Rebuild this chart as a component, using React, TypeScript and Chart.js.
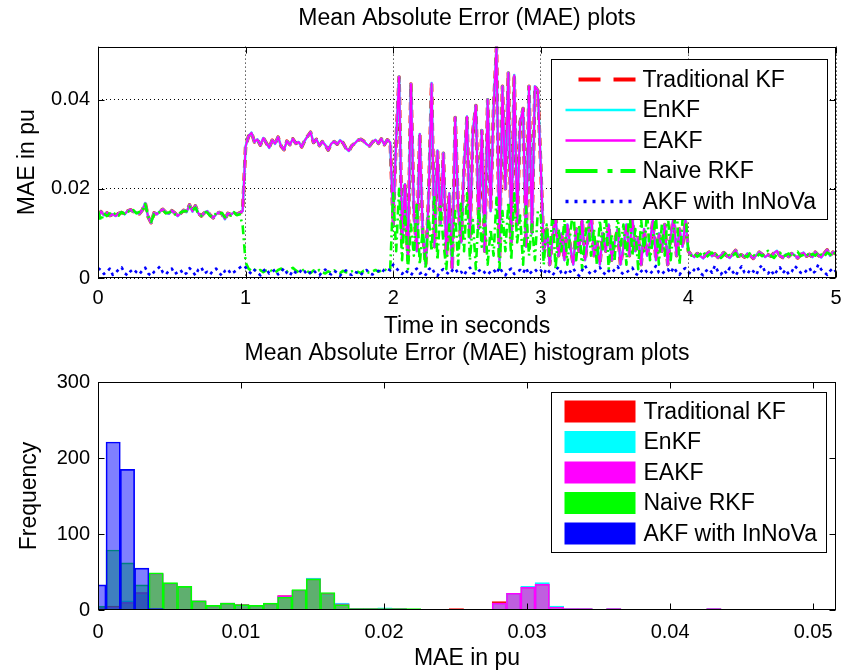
import React, { useEffect, useRef } from "react";
import { Chart, registerables } from "chart.js";

Chart.register(...registerables);

const FONT_FAMILY = "'Liberation Sans', Arial, Helvetica, sans-serif";

// ---------------- series ----------------
const SERIES = ["Traditional KF", "EnKF", "EAKF", "Naive RKF", "AKF with InNoVa"];
const COLORS = ["#ff0000", "#00ffff", "#ff00ff", "#00ff00", "#0000ff"];

// ---------------- top plot : MAE vs time ----------------
const SAMPLE_STEP_S = 0.02; // one value every 0.02 s, t = 0 ... 5 s
const TIME_TICKS = [0, 1, 2, 3, 4, 5];
const MAE_TICKS = [0, 0.02, 0.04];
const TIME_MAX = 5;
const MAE_MAX = 0.0519;

const EAKF_MAE = [
  0.0138, 0.0149, 0.0141, 0.0146, 0.0140, 0.0143, 0.0139, 0.0145, 0.0147, 0.0143,
  0.0150, 0.0153, 0.0149, 0.0147, 0.0144, 0.0152, 0.0168, 0.0137, 0.0124, 0.0146,
  0.0143, 0.0150, 0.0154, 0.0147, 0.0144, 0.0151, 0.0146, 0.0139, 0.0145, 0.0152,
  0.0148, 0.0164, 0.0149, 0.0162, 0.0145, 0.0139, 0.0146, 0.0150, 0.0141, 0.0135,
  0.0143, 0.0147, 0.0144, 0.0132, 0.0145, 0.0142, 0.0147, 0.0143, 0.0146, 0.0150,
  0.0295, 0.0318, 0.0326, 0.0305, 0.0311, 0.0298, 0.0314, 0.0303, 0.0292, 0.0309,
  0.0301, 0.0316, 0.0296, 0.0288, 0.0307, 0.0299, 0.0312, 0.0302, 0.0305, 0.0294,
  0.0308, 0.0318, 0.0327, 0.0304, 0.0311, 0.0297, 0.0306, 0.0298, 0.0287, 0.0301,
  0.0306, 0.0300, 0.0309, 0.0303, 0.0291, 0.0285, 0.0297, 0.0302, 0.0309, 0.0311,
  0.0307, 0.0300, 0.0296, 0.0305, 0.0310, 0.0302, 0.0312, 0.0299, 0.0310, 0.0304,
  0.0120, 0.0310, 0.0451, 0.0080, 0.0210, 0.0040, 0.0435, 0.0150, 0.0060, 0.0323,
  0.0100, 0.0030, 0.0180, 0.0437, 0.0070, 0.0286, 0.0120, 0.0280, 0.0050, 0.0190,
  0.0020, 0.0360, 0.0160, 0.0080, 0.0250, 0.0362, 0.0090, 0.0330, 0.0387, 0.0110,
  0.0331, 0.0060, 0.0400, 0.0150, 0.0380, 0.0518, 0.0040, 0.0430, 0.0200, 0.0460,
  0.0080, 0.0455, 0.0120, 0.0350, 0.0380, 0.0070, 0.0430, 0.0100, 0.0430, 0.0420,
  0.0250, 0.0060, 0.0110, 0.0030, 0.0090, 0.0140, 0.0050, 0.0100, 0.0040, 0.0120,
  0.0070, 0.0030, 0.0110, 0.0060, 0.0130, 0.0040, 0.0090, 0.0150, 0.0050, 0.0080,
  0.0030, 0.0100, 0.0060, 0.0120, 0.0040, 0.0080, 0.0110, 0.0030, 0.0070, 0.0120,
  0.0050, 0.0140, 0.0060, 0.0090, 0.0030, 0.0110, 0.0050, 0.0080, 0.0130, 0.0040,
  0.0100, 0.0060, 0.0120, 0.0030, 0.0090, 0.0140, 0.0050, 0.0110, 0.0070, 0.0130,
  0.0060, 0.0052, 0.0047, 0.0055, 0.0050, 0.0044, 0.0053, 0.0058, 0.0049, 0.0054,
  0.0046, 0.0051, 0.0057, 0.0050, 0.0045, 0.0053, 0.0062, 0.0049, 0.0052, 0.0047,
  0.0055, 0.0050, 0.0044, 0.0051, 0.0058, 0.0053, 0.0047, 0.0052, 0.0049, 0.0056,
  0.0061, 0.0050, 0.0046, 0.0053, 0.0048, 0.0055, 0.0051, 0.0045, 0.0052, 0.0057,
  0.0049, 0.0053, 0.0047, 0.0058, 0.0051, 0.0046, 0.0055, 0.0063, 0.0050, 0.0058,
  0.0054,
];
// Traditional KF and EnKF coincide with EAKF at the scale of the picture
const TRADITIONAL_KF_MAE = EAKF_MAE;
const ENKF_MAE = EAKF_MAE;

const NAIVE_RKF_MAE = [
  0.0150, 0.0128, 0.0146, 0.0139, 0.0145, 0.0141, 0.0146, 0.0140, 0.0148, 0.0144,
  0.0151, 0.0147, 0.0152, 0.0145, 0.0148, 0.0149, 0.0166, 0.0138, 0.0126, 0.0143,
  0.0145, 0.0148, 0.0152, 0.0145, 0.0147, 0.0149, 0.0143, 0.0141, 0.0147, 0.0150,
  0.0150, 0.0160, 0.0151, 0.0158, 0.0143, 0.0140, 0.0148, 0.0147, 0.0139, 0.0137,
  0.0145, 0.0144, 0.0146, 0.0136, 0.0142, 0.0140, 0.0148, 0.0141, 0.0143, 0.0118,
  0.0035, 0.0021, 0.0016, 0.0019, 0.0014, 0.0018, 0.0013, 0.0017, 0.0020, 0.0015,
  0.0012, 0.0018, 0.0021, 0.0016, 0.0014, 0.0019, 0.0023, 0.0017, 0.0013, 0.0016,
  0.0020, 0.0015, 0.0011, 0.0017, 0.0014, 0.0018, 0.0013, 0.0010, 0.0015, 0.0012,
  0.0017, 0.0014, 0.0011, 0.0016, 0.0013, 0.0012, 0.0015, 0.0010, 0.0014, 0.0011,
  0.0016, 0.0013, 0.0012, 0.0015, 0.0018, 0.0014, 0.0017, 0.0020, 0.0016, 0.0021,
  0.0190, 0.0060, 0.0200, 0.0040, 0.0150, 0.0020, 0.0120, 0.0050, 0.0170, 0.0030,
  0.0110, 0.0020, 0.0140, 0.0060, 0.0185, 0.0040, 0.0160, 0.0080, 0.0020, 0.0120,
  0.0050, 0.0150, 0.0030, 0.0170, 0.0060, 0.0190, 0.0040, 0.0130, 0.0020, 0.0160,
  0.0070, 0.0140, 0.0030, 0.0110, 0.0050, 0.0180, 0.0020, 0.0150, 0.0060, 0.0170,
  0.0040, 0.0190, 0.0080, 0.0140, 0.0030, 0.0160, 0.0050, 0.0120, 0.0040, 0.0150,
  0.0140, 0.0030, 0.0120, 0.0050, 0.0150, 0.0020, 0.0110, 0.0060, 0.0130, 0.0030,
  0.0100, 0.0160, 0.0040, 0.0120, 0.0020, 0.0090, 0.0140, 0.0050, 0.0110, 0.0030,
  0.0130, 0.0060, 0.0150, 0.0020, 0.0100, 0.0040, 0.0140, 0.0070, 0.0120, 0.0030,
  0.0160, 0.0050, 0.0110, 0.0020, 0.0130, 0.0060, 0.0150, 0.0040, 0.0090, 0.0140,
  0.0030, 0.0120, 0.0050, 0.0150, 0.0040, 0.0110, 0.0160, 0.0030, 0.0130, 0.0140,
  0.0058, 0.0050, 0.0055, 0.0048, 0.0053, 0.0060, 0.0046, 0.0052, 0.0057, 0.0049,
  0.0054, 0.0045, 0.0051, 0.0059, 0.0048, 0.0050, 0.0056, 0.0044, 0.0055, 0.0050,
  0.0047, 0.0058, 0.0052, 0.0046, 0.0054, 0.0049, 0.0056, 0.0061, 0.0050, 0.0045,
  0.0053, 0.0057, 0.0048, 0.0051, 0.0055, 0.0046, 0.0053, 0.0059, 0.0049, 0.0052,
  0.0056, 0.0047, 0.0054, 0.0050, 0.0058, 0.0052, 0.0048, 0.0057, 0.0053, 0.0049,
  0.0062,
];

const AKF_INNOVA_MAE = [
  0.0022, 0.0018, 0.0009, 0.0014, 0.0021, 0.0007, 0.0012, 0.0019, 0.0024, 0.0011,
  0.0006, 0.0015, 0.0020, 0.0013, 0.0008, 0.0017, 0.0023, 0.0010, 0.0005, 0.0014,
  0.0019, 0.0026, 0.0012, 0.0008, 0.0016, 0.0021, 0.0009, 0.0013, 0.0018, 0.0007,
  0.0011, 0.0022, 0.0015, 0.0006, 0.0019, 0.0024, 0.0010, 0.0014, 0.0008, 0.0017,
  0.0021, 0.0012, 0.0005, 0.0016, 0.0020, 0.0009, 0.0013, 0.0018, 0.0023, 0.0028,
  0.0024, 0.0015, 0.0009, 0.0018, 0.0012, 0.0006, 0.0016, 0.0021, 0.0010, 0.0014,
  0.0019, 0.0008, 0.0013, 0.0022, 0.0011, 0.0005, 0.0017, 0.0012, 0.0009, 0.0020,
  0.0015, 0.0007, 0.0013, 0.0018, 0.0010, 0.0006, 0.0014, 0.0019, 0.0011, 0.0008,
  0.0016, 0.0012, 0.0005, 0.0013, 0.0017, 0.0009, 0.0007, 0.0014, 0.0011, 0.0006,
  0.0015, 0.0018, 0.0010, 0.0008, 0.0013, 0.0016, 0.0011, 0.0019, 0.0021, 0.0017,
  0.0030, 0.0022, 0.0015, 0.0009, 0.0018, 0.0012, 0.0006, 0.0016, 0.0021, 0.0010,
  0.0014, 0.0007, 0.0019, 0.0024, 0.0011, 0.0005, 0.0015, 0.0020, 0.0013, 0.0008,
  0.0017, 0.0022, 0.0010, 0.0014, 0.0006, 0.0018, 0.0023, 0.0011, 0.0009, 0.0016,
  0.0020, 0.0012, 0.0007, 0.0015, 0.0019, 0.0010, 0.0024, 0.0013, 0.0006, 0.0017,
  0.0021, 0.0009, 0.0014, 0.0018, 0.0011, 0.0023, 0.0008, 0.0015, 0.0020, 0.0012,
  0.0017, 0.0009, 0.0021, 0.0013, 0.0006, 0.0016, 0.0025, 0.0011, 0.0008, 0.0019,
  0.0014, 0.0022, 0.0010, 0.0005, 0.0017, 0.0028, 0.0015, 0.0009, 0.0012, 0.0020,
  0.0024, 0.0013, 0.0007, 0.0016, 0.0011, 0.0019, 0.0026, 0.0014, 0.0008, 0.0012,
  0.0018, 0.0023, 0.0010, 0.0006, 0.0015, 0.0021, 0.0013, 0.0009, 0.0017, 0.0027,
  0.0012, 0.0008, 0.0016, 0.0020, 0.0011, 0.0024, 0.0014, 0.0007, 0.0018, 0.0022,
  0.0013, 0.0009, 0.0019, 0.0025, 0.0011, 0.0006, 0.0016, 0.0021, 0.0012, 0.0028,
  0.0015, 0.0008, 0.0018, 0.0010, 0.0023, 0.0014, 0.0005, 0.0017, 0.0026, 0.0012,
  0.0009, 0.0020, 0.0015, 0.0007, 0.0022, 0.0029, 0.0013, 0.0010, 0.0018, 0.0006,
  0.0016, 0.0024, 0.0011, 0.0019, 0.0008, 0.0014, 0.0027, 0.0021, 0.0012, 0.0009,
  0.0017, 0.0023, 0.0010, 0.0015, 0.0030, 0.0019, 0.0013, 0.0007, 0.0016, 0.0022,
  0.0014,
];

// ---------------- bottom plot : MAE histogram ----------------
const HIST_FIRST_CENTER = 0.00006;
const HIST_BIN_WIDTH = 0.001;
const HIST_X_TICKS = [0, 0.01, 0.02, 0.03, 0.04, 0.05];
const HIST_Y_TICKS = [0, 100, 200, 300];
const HIST_X_MAX = 0.0516;
const HIST_Y_MAX = 300;

const TRADITIONAL_KF_HIST = [
  4, 5, 10, 23, 48, 35, 31, 12, 5, 9, 7, 6, 8, 19, 26, 41, 22, 8, 2, 2, 2, 2, 1,
  0, 0, 2, 1, 1, 11, 22, 30, 34, 4, 2, 2, 1, 2, 0, 1, 0, 0, 0, 0, 2, 1, 1, 0,
];
const ENKF_HIST = [
  4, 4, 12, 20, 48, 35, 31, 12, 5, 9, 6, 6, 8, 18, 26, 42, 20, 9, 2, 2, 3, 2, 1,
  0, 0, 1, 1, 1, 9, 22, 31, 36, 5, 2, 2, 1, 2, 0, 1, 0, 0, 0, 0, 2, 1, 1, 0,
];
const EAKF_HIST = [
  4, 4, 10, 23, 48, 35, 31, 12, 5, 9, 7, 6, 8, 19, 26, 41, 22, 8, 2, 2, 2, 2, 1,
  0, 0, 1, 1, 1, 9, 22, 30, 34, 4, 2, 2, 1, 2, 0, 1, 0, 0, 0, 0, 2, 1, 1, 0,
];
const NAIVE_RKF_HIST = [
  5, 79, 62, 33, 49, 36, 31, 12, 6, 9, 7, 6, 9, 17, 27, 41, 23, 7, 2, 2, 2, 2, 2,
  0, 0, 0, 0, 0, 0, 0, 0, 0, 0, 0, 0, 0, 0, 0, 0, 0, 0, 0, 0, 0, 0, 0, 0,
];
const AKF_INNOVA_HIST = [
  33, 221, 185, 55, 2, 0, 0, 0, 0, 0, 0, 0, 0, 0, 0, 0, 0, 0, 0, 0, 0, 0, 0,
  0, 0, 0, 0, 0, 0, 0, 0, 0, 0, 0, 0, 0, 0, 0, 0, 0, 0, 0, 0, 0, 0, 0, 0,
];

// ---------------- helpers ----------------
const fmtTick = (v: number) => (v === 0 ? "0" : String(v));

function rgba(hex: string, a: number) {
  const n = parseInt(hex.slice(1), 16);
  return `rgba(${(n >> 16) & 255},${(n >> 8) & 255},${n & 255},${a})`;
}

function drawFrame(chart: any, xTicks: number[], yTicks: number[]) {
  const { ctx, chartArea: a, scales } = chart;
  ctx.save();
  ctx.strokeStyle = "#000";
  ctx.lineWidth = 1;
  ctx.setLineDash([]);
  const L = Math.round(a.left) + 0.5;
  const R = Math.round(a.right) - 0.5;
  const T = Math.round(a.top) + 0.5;
  const B = Math.round(a.bottom) - 0.5;
  ctx.strokeRect(L, T, R - L, B - T);
  const len = 6;
  ctx.beginPath();
  for (const v of xTicks) {
    const px = Math.round(scales.x.getPixelForValue(v)) + 0.5;
    ctx.moveTo(px, B);
    ctx.lineTo(px, B - len);
    ctx.moveTo(px, T);
    ctx.lineTo(px, T + len);
  }
  for (const v of yTicks) {
    const py = Math.round(scales.y.getPixelForValue(v)) + 0.5;
    ctx.moveTo(L, py);
    ctx.lineTo(L + len, py);
    ctx.moveTo(R, py);
    ctx.lineTo(R - len, py);
  }
  ctx.stroke();
  ctx.restore();
}

const LINE_LEGEND_STYLE = [
  { width: 4, dash: [22, 13], offset: 22 },
  { width: 2.5, dash: [], offset: 0 },
  { width: 2.5, dash: [], offset: 0 },
  { width: 4, dash: [32, 10, 5, 8], offset: 0 },
  { width: 3.5, dash: [3, 6], offset: 0 },
];

const lineChartDecor = {
  id: "lineChartDecor",
  afterDatasetsDraw(chart: any) {
    drawFrame(chart, TIME_TICKS, MAE_TICKS);
    const { ctx, chartArea: a } = chart;
    const w = 276;
    const h = 160;
    const x0 = Math.round(a.right - 9 - w) + 0.5;
    const y0 = Math.round(a.top + 12) + 0.5;
    ctx.save();
    ctx.fillStyle = "#fff";
    ctx.fillRect(x0, y0, w, h);
    ctx.strokeStyle = "#000";
    ctx.lineWidth = 1;
    ctx.strokeRect(x0, y0, w, h);
    ctx.font = `23px ${FONT_FAMILY}`;
    ctx.textBaseline = "middle";
    ctx.textAlign = "left";
    SERIES.forEach((name, i) => {
      const cy = y0 + 20 + i * 30.5;
      const st = LINE_LEGEND_STYLE[i];
      ctx.beginPath();
      ctx.strokeStyle = COLORS[i];
      ctx.lineWidth = st.width;
      ctx.setLineDash(st.dash);
      ctx.lineDashOffset = st.offset;
      ctx.moveTo(x0 + 14, cy);
      ctx.lineTo(x0 + 84, cy);
      ctx.stroke();
      ctx.setLineDash([]);
      ctx.fillStyle = "#000";
      ctx.fillText(name, x0 + 91, cy + 1);
    });
    ctx.restore();
  },
};

const histChartDecor = {
  id: "histChartDecor",
  afterDatasetsDraw(chart: any) {
    drawFrame(chart, HIST_X_TICKS, HIST_Y_TICKS);
    const { ctx, chartArea: a } = chart;
    const w = 275;
    const h = 160;
    const x0 = Math.round(a.right - 10 - w) + 0.5;
    const y0 = Math.round(a.top + 10) + 0.5;
    ctx.save();
    ctx.fillStyle = "#fff";
    ctx.fillRect(x0, y0, w, h);
    ctx.strokeStyle = "#000";
    ctx.lineWidth = 1;
    ctx.strokeRect(x0, y0, w, h);
    ctx.font = `23px ${FONT_FAMILY}`;
    ctx.textBaseline = "middle";
    ctx.textAlign = "left";
    SERIES.forEach((name, i) => {
      const cy = y0 + 19 + i * 30.5;
      ctx.fillStyle = COLORS[i];
      ctx.fillRect(x0 + 13, cy - 11, 71, 22);
      ctx.fillStyle = "#000";
      ctx.fillText(name, x0 + 92, cy + 1);
    });
    ctx.restore();
  },
};

const tickFont = { family: FONT_FAMILY, size: 20 };
const labelFont = { family: FONT_FAMILY, size: 23, weight: "normal" as const };

// ---------------- components ----------------
function MaeTimeChart() {
  const ref = useRef<HTMLCanvasElement>(null);
  useEffect(() => {
    const series = [TRADITIONAL_KF_MAE, ENKF_MAE, EAKF_MAE, NAIVE_RKF_MAE, AKF_INNOVA_MAE];
    const styles = [
      { width: 3.5, dash: [8, 5], order: 5 },
      { width: 2.6, dash: [], order: 4 },
      { width: 2, dash: [], order: 3 },
      { width: 2.6, dash: [9, 4, 2, 4], order: 2 },
      { width: 2.6, dash: [3, 4], order: 1 },
    ];
    const datasets = series.map((vals, i) => ({
      label: SERIES[i],
      data: vals.map((v, k) => ({ x: k * SAMPLE_STEP_S, y: v })),
      borderColor: COLORS[i],
      backgroundColor: COLORS[i],
      borderWidth: styles[i].width,
      borderDash: styles[i].dash,
      borderJoinStyle: "round" as const,
      pointRadius: 0,
      tension: 0,
      fill: false,
      order: styles[i].order,
    }));
    const chart = new Chart(ref.current as HTMLCanvasElement, {
      type: "line",
      data: { datasets },
      options: {
        animation: false,
        responsive: false,
        devicePixelRatio: 1,
        events: [],
        layout: { padding: { left: 0, right: 10, top: 0, bottom: 0 }, autoPadding: false },
        plugins: {
          legend: { display: false },
          tooltip: { enabled: false },
          title: {
            display: true,
            text: "Mean Absolute Error (MAE) plots",
            fullSize: false,
            color: "#000",
            font: labelFont,
            padding: { top: 5, bottom: 14 },
          },
        },
        scales: {
          x: {
            type: "linear",
            min: 0,
            max: TIME_MAX,
            afterBuildTicks: (s: any) => {
              s.ticks = TIME_TICKS.map((value) => ({ value }));
            },
            afterFit: (s: any) => {
              s.height = 62;
              s.paddingLeft = 0;
              s.paddingRight = 0;
            },
            ticks: { callback: (v: any) => fmtTick(Number(v)), font: tickFont, color: "#000", padding: 8, maxRotation: 0 },
            grid: { color: "#000", lineWidth: 1, drawTicks: false },
            border: { display: false, dash: [1, 3] },
            title: { display: true, text: "Time in seconds", color: "#000", font: labelFont, padding: { top: 0, bottom: 0 } },
          },
          y: {
            type: "linear",
            min: 0,
            max: MAE_MAX,
            afterBuildTicks: (s: any) => {
              s.ticks = MAE_TICKS.map((value) => ({ value }));
            },
            afterFit: (s: any) => {
              s.width = 98;
              s.paddingTop = 0;
              s.paddingBottom = 0;
            },
            ticks: { callback: (v: any) => fmtTick(Number(v)), font: tickFont, color: "#000", padding: 8 },
            grid: { color: "#000", lineWidth: 1, drawTicks: false },
            border: { display: false, dash: [1, 3] },
            title: { display: true, text: "MAE in pu", color: "#000", font: labelFont, padding: { top: 14, bottom: 0 } },
          },
        },
      },
      plugins: [lineChartDecor],
    } as any);
    return () => chart.destroy();
  }, []);
  return (
    <canvas
      ref={ref}
      width={846}
      height={340}
      style={{ position: "absolute", left: 0, top: 0, width: 846, height: 340, display: "block" }}
    />
  );
}

function MaeHistogramChart() {
  const ref = useRef<HTMLCanvasElement>(null);
  useEffect(() => {
    const counts = [TRADITIONAL_KF_HIST, ENKF_HIST, EAKF_HIST, NAIVE_RKF_HIST, AKF_INNOVA_HIST];
    const orders = [5, 4, 3, 2, 1];
    const datasets = counts.map((c, i) => ({
      label: SERIES[i],
      data: c
        .map((y, k) => ({ x: HIST_FIRST_CENTER + k * HIST_BIN_WIDTH, y }))
        .filter((p) => p.y > 0),
      backgroundColor: rgba(COLORS[i], 0.5),
      borderColor: COLORS[i],
      borderWidth: 1,
      grouped: false,
      barPercentage: 1,
      categoryPercentage: 1,
      order: orders[i],
    }));
    const chart = new Chart(ref.current as HTMLCanvasElement, {
      type: "bar",
      data: { datasets },
      options: {
        animation: false,
        responsive: false,
        devicePixelRatio: 1,
        events: [],
        layout: { padding: { left: 0, right: 10, top: 0, bottom: 0 }, autoPadding: false },
        plugins: {
          legend: { display: false },
          tooltip: { enabled: false },
          title: {
            display: true,
            text: "Mean Absolute Error (MAE) histogram plots",
            fullSize: false,
            color: "#000",
            font: labelFont,
            padding: { top: 0, bottom: 14.4 },
          },
        },
        scales: {
          x: {
            type: "linear",
            min: 0,
            max: HIST_X_MAX,
            offset: false,
            afterBuildTicks: (s: any) => {
              s.ticks = HIST_X_TICKS.map((value) => ({ value }));
            },
            afterFit: (s: any) => {
              s.height = 62;
              s.paddingLeft = 0;
              s.paddingRight = 0;
            },
            ticks: { callback: (v: any) => fmtTick(Number(v)), font: tickFont, color: "#000", padding: 10, maxRotation: 0 },
            grid: { display: false, offset: false, drawTicks: false },
            border: { display: false },
            title: { display: true, text: "MAE in pu", color: "#000", font: labelFont, padding: { top: 0, bottom: 0 } },
          },
          y: {
            type: "linear",
            min: 0,
            max: HIST_Y_MAX,
            afterBuildTicks: (s: any) => {
              s.ticks = HIST_Y_TICKS.map((value) => ({ value }));
            },
            afterFit: (s: any) => {
              s.width = 98;
              s.paddingTop = 0;
              s.paddingBottom = 0;
            },
            ticks: { callback: (v: any) => fmtTick(Number(v)), font: tickFont, color: "#000", padding: 8 },
            grid: { display: false, drawTicks: false },
            border: { display: false },
            title: { display: true, text: "Frequency", color: "#000", font: labelFont, padding: { top: 16, bottom: 0 } },
          },
        },
      },
      plugins: [histChartDecor],
    } as any);
    return () => chart.destroy();
  }, []);
  return (
    <canvas
      ref={ref}
      width={846}
      height={332}
      style={{ position: "absolute", left: 0, top: 340, width: 846, height: 332, display: "block" }}
    />
  );
}

export default function App() {
  return (
    <div style={{ position: "absolute", left: 0, top: 0, width: 846, height: 672, background: "#fff", overflow: "hidden" }}>
      <MaeTimeChart />
      <MaeHistogramChart />
    </div>
  );
}
